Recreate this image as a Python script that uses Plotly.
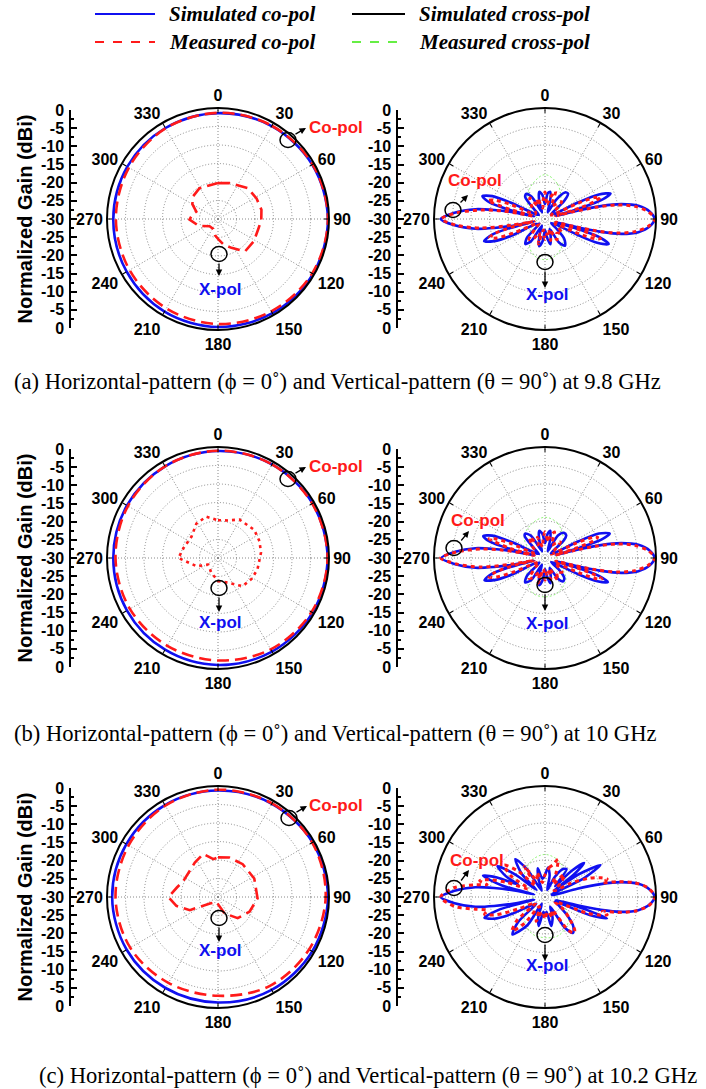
import plotly.graph_objects as go

W, H = 706, 1089

# ---------------- data ----------------
ANG_TICKS = list(range(0, 360, 30))
ANG_LABELS = [str(a) for a in ANG_TICKS]
SCALE_TICKS = list(range(-30, 31, 5))
SCALE_LABELS = [str(abs(v) - 30) for v in SCALE_TICKS]
RING_TICKS = [-25, -20, -15, -10, -5]

# Horizontal pattern (phi = 0) : co-pol, simulated and measured
H_theta = [0, 30, 60, 90, 120, 150, 180, 210, 240, 270, 300, 330, 360]
Ha_sim = [-1.4, -1.0, -0.6, -0.3, -0.35, -0.6, -0.8, -1.1, -1.5, -1.7, -1.7, -1.6, -1.4]
Ha_meas = [-1.3, -0.9, -0.5, -0.3, -0.6, -1.2, -1.6, -2.1, -2.4, -2.4, -2.2, -1.7, -1.3]
Hb_sim = [-1.1, -0.8, -0.5, -0.4, -0.5, -0.8, -1.1, -1.4, -1.6, -1.7, -1.6, -1.4, -1.1]
Hb_meas = [-1.0, -0.8, -0.6, -0.4, -0.8, -1.5, -2.3, -2.6, -2.5, -2.3, -1.9, -1.4, -1.0]
Hc_sim = [-1.2, -0.9, -0.5, -0.3, -0.6, -1.0, -1.5, -1.6, -1.5, -1.4, -1.4, -1.3, -1.2]
Hc_meas = [-1.0, -0.8, -0.6, -0.9, -1.6, -2.2, -3.3, -3.2, -2.6, -2.3, -2.1, -1.5, -1.0]

# Horizontal pattern : measured cross-pol (inner curves)
Xa_theta = [0, 18, 44, 62, 78, 92, 105, 122, 140, 155, 168, 178, 190, 205, 229, 250, 269, 280, 289, 300, 312, 329, 345, 360]
Xa_meas = [-20.3, -19.8, -18.4, -18.2, -18.0, -18.3, -18.8, -18.6, -18.6, -21.4, -23.0, -24.4, -25.5, -27.0, -27.0,
           -24.5, -22.3, -23.0, -23.8, -22.0, -20.9, -20.3, -20.6, -20.3]
Xb_theta = [0, 15, 29, 52, 68, 83, 106, 122, 139, 158, 180, 204, 236, 249, 270, 286, 309, 328, 344, 360]
Xb_meas = [-19.8, -19.5, -18.1, -17.6, -17.9, -18.3, -18.9, -19.3, -19.9, -22.8, -23.8, -25.6, -26.8, -23.8,
           -19.3, -20.3, -20.8, -19.0, -18.4, -19.8]
Xc_theta = [0, 16, 37, 63, 92, 115, 137, 158, 198, 231, 245, 258, 270, 283, 295, 326, 341, 353, 360]
Xc_meas = [-19.3, -18.9, -18.9, -19.0, -19.3, -20.6, -22.2, -25.2, -28.6, -27.2, -21.6, -18.5, -16.6, -18.6,
           -19.7, -18.8, -17.7, -19.7, -19.3]

# Vertical pattern (theta = 90) : simulated co-pol, (angle, gain) pairs
Va_sim = [(0, -26), (6, -23), (11, -22.5), (16, -25), (22, -28), (30, -24), (37, -21), (42, -20.7),
          (47, -23), (52, -28), (58, -27.5), (62, -27), (63.5, -20), (65.5, -14), (68.7, -11), (71.5, -14),
          (73, -20), (74.2, -27), (75.5, -21), (77, -14.5), (79, -9), (82, -4.5), (86, -1.6), (90, -0.4),
          (94, -1.6), (98, -4.5), (101, -9), (103, -14.5), (104.5, -21), (105.8, -27), (107, -20),
          (108.5, -14.5), (111.5, -11.5), (114.5, -14.5), (116, -20), (117.5, -27), (124, -28), (130, -26),
          (136, -22.5), (143, -21), (149, -22.5), (155, -27), (162, -25), (168, -23), (174, -25), (180, -27),
          (186, -24), (192, -22.5), (198, -25), (205, -28), (212, -23), (218, -21.4), (224, -23), (230, -28),
          (236, -27.5), (242, -27), (243.5, -20), (246.5, -15), (250, -12.5), (253.5, -15), (255.5, -20),
          (256.8, -27), (258, -21.5), (260, -16), (262, -11), (266, -5.5), (270, -1.8), (274, -5.5),
          (278, -11), (280, -16), (282, -21.5), (283.3, -27), (284.5, -20), (286.5, -14.5), (290, -12),
          (293.5, -14.5), (295.5, -20), (297, -27), (304, -28), (312, -26), (318, -22), (323, -21.5),
          (329, -23), (336, -28), (342, -25), (348, -22.5), (354, -23.5), (360, -26)]
Va_meas = [(0, -22.7), (8, -26), (14, -24), (21, -22), (28, -26), (36, -25), (44, -23.5), (52, -27), (58, -28),
           (62.5, -27), (64.5, -20), (66.5, -15.5), (68.5, -13.9), (70.5, -15.5), (72.5, -20), (74, -27),
           (75.5, -22), (77, -16), (79, -10), (82, -5.5), (86, -2), (90, -0.3), (94, -2), (98, -5.5),
           (101, -10), (103, -16), (104.5, -22), (106, -27), (107.5, -19), (109.5, -14.1), (111.5, -15.5),
           (113.5, -20), (115.5, -27), (122, -26), (130, -24), (140, -25), (150, -23.5), (158, -27), (165, -24),
           (172, -26), (180, -24.5), (188, -27), (195, -23), (202, -26), (210, -24), (218, -23), (226, -26.5),
           (234, -28), (242.5, -27), (246, -21), (248.5, -16), (251.5, -14.2), (254, -16), (256.5, -21),
           (258, -27), (259.5, -21), (262, -12.5), (266, -6), (270, -2.0), (274, -6), (278, -12.5),
           (280.5, -18), (282, -23), (283.5, -27), (285.5, -20), (288, -13.8), (290.5, -15.5), (293, -20),
           (296, -27), (304, -27), (314, -25), (324, -23), (332, -26), (340, -24), (348, -27), (354, -25),
           (360, -22.7)]

Vb_sim = [(0, -26), (6, -23.5), (11, -22.5), (16, -25), (22, -28), (30, -23), (37, -21.5), (43, -21.6),
          (47, -23), (52, -28), (58, -27.5), (62, -27), (63.5, -20), (65.5, -14), (69.3, -11.3), (72, -14),
          (73.3, -20), (74.2, -27), (75.5, -21), (77, -14.5), (79, -9), (82, -4.5), (86, -1.6), (90, -0.4),
          (94, -1.6), (98, -4.5), (101, -9), (103, -14.5), (104.5, -21), (105.8, -27), (107, -20),
          (108.5, -14.5), (111, -11.8), (114, -14.5), (116, -20), (117.5, -27), (124, -28), (130, -25),
          (136, -22.5), (142, -22), (148, -23.5), (155, -27), (162, -25), (168, -23), (174, -25), (180, -27),
          (186, -24), (192, -22.5), (198, -25), (205, -28), (212, -23), (219, -21.5), (225, -23), (230, -28),
          (236, -27.5), (242, -27), (243.5, -20), (246.5, -15), (250, -12.6), (253.5, -15), (255.5, -20),
          (256.8, -27), (258, -21.5), (260, -16), (262, -11), (266, -5.7), (270, -2.0), (274, -5.7),
          (278, -11), (280, -16), (282, -21.5), (283.3, -27), (284.5, -20), (286.5, -14.5), (289.5, -12.3),
          (293, -14.5), (295.5, -20), (297, -27), (304, -28), (312, -26), (317, -22), (321, -21.5),
          (328, -23), (336, -28), (342, -25), (348, -22.5), (354, -23.5), (360, -26)]
Vb_meas = [(0, -23), (8, -25), (14, -24), (20, -22.5), (28, -26), (36, -25), (44, -24), (52, -27), (58, -28),
           (62.5, -27), (64.5, -21), (66.5, -16), (68.5, -14.7), (70.5, -16), (72.5, -21), (74, -27),
           (75.5, -22), (77, -16), (79, -10), (82, -5.5), (86, -2), (90, -0.3), (94, -2), (98, -5.5),
           (101, -10), (103, -16), (104.5, -22), (106, -27), (107.5, -19), (110, -13.6), (112, -15),
           (113.5, -20), (115.5, -27), (122, -26), (130, -24), (140, -25), (150, -23), (158, -27), (165, -24),
           (172, -26), (180, -24), (188, -27), (195, -23), (202, -26), (210, -24), (218, -23), (226, -26.5),
           (234, -28), (242.5, -27), (246, -21), (248.5, -16), (251, -14), (254, -16), (256.5, -21),
           (258, -27), (259.5, -21), (262, -12.5), (266, -6.2), (270, -1.8), (274, -6.2), (278, -12.5),
           (280.5, -18), (282, -23), (283.5, -27), (285.5, -20), (289, -14), (291, -15.5), (293, -20),
           (296, -27), (304, -27), (314, -25), (324, -23), (332, -26), (340, -24), (348, -27), (354, -25),
           (360, -23)]

Vc_sim = [(0, -24), (6, -22), (12, -24), (18, -28), (26, -24), (33, -21), (38, -20.5), (43, -26), (45.5, -20),
          (49, -16), (52, -20), (54, -27), (56, -19), (60, -12.7), (64, -18), (66, -27), (70, -28),
          (74.2, -28), (75.5, -21), (77, -14.5), (79, -9), (82, -4.5), (86, -1.6), (90, -0.4), (94, -1.6),
          (98, -4.5), (101, -9), (103, -14.5), (104.5, -21), (105.8, -27), (107, -19), (109, -12.3),
          (112, -17), (114, -27), (120, -26), (130, -22), (136, -19), (142, -17.7), (147, -20), (152, -27),
          (160, -24), (168, -22), (174, -26), (180, -25), (186, -26), (192, -22), (198, -24), (206, -28),
          (212, -21), (221, -16.6), (227, -20), (232, -27), (238, -26), (243, -20), (247, -15), (251, -12.7),
          (254.5, -17), (256.8, -27), (258, -21.5), (260, -16), (262, -11), (266, -5.5), (270, -1.8),
          (274, -5.5), (278, -11), (280, -16), (282, -21.5), (283.3, -27), (285, -18), (289, -12.3),
          (292, -16), (295, -22), (298, -18), (303, -14.7), (307, -20), (310, -27), (315, -21), (322, -17),
          (327, -21), (333, -28), (340, -25), (346, -22), (352, -25), (360, -24)]
Vc_meas = [(0, -24), (8, -22), (14, -21), (19, -19.2), (25, -23), (32, -26), (40, -22), (48, -24), (55, -27),
           (62, -22), (67, -17), (71, -14), (74, -12.5), (76, -14), (78, -10), (81, -5.5), (85, -2),
           (90, -0.3), (95, -2), (99, -5.5), (102, -10), (104, -14), (106, -12.5), (108, -14), (111, -18),
           (116, -27), (124, -24), (132, -21), (138, -18), (141, -17.5), (145, -19), (152, -26), (160, -24),
           (170, -26), (180, -24), (190, -26), (200, -23), (210, -27), (218, -21), (224, -17.2), (230, -20),
           (238, -27), (246, -22), (250, -16), (254, -13), (257, -14), (260, -11), (264, -5.5), (270, -1.8),
           (276, -5.5), (280, -11), (282, -14), (284, -11.8), (287, -14), (291, -19), (296, -25), (302, -19),
           (308, -16), (314, -20), (320, -26), (326, -20), (334, -25), (342, -23), (350, -26), (360, -24)]

# Vertical pattern : measured cross-pol (faint)
G_theta = [0, 20, 45, 70, 90, 110, 135, 160, 180, 200, 225, 250, 270, 290, 315, 340, 360]
Ga_meas = [-18, -20, -24, -27, -28, -27, -23, -20, -19, -20, -24, -27, -28, -27, -23, -20, -18]
Gb_meas = [-19, -20, -23, -26, -27, -26, -22, -20, -19.5, -20, -23, -26, -27, -26, -22, -20, -19]
Gc_meas = [-18.5, -19.5, -22, -25, -27, -25, -21, -19, -19, -19.5, -22, -25, -27, -25, -22, -19.5, -18.5]

CAPTIONS = ["(a) Horizontal-pattern (\u03d5 = 0\u02da) and Vertical-pattern (\u03b8 = 90\u02da) at 9.8 GHz",
            "(b) Horizontal-pattern (\u03d5 = 0\u02da) and Vertical-pattern (\u03b8 = 90\u02da) at 10 GHz",
            "(c) Horizontal-pattern (\u03d5 = 0\u02da) and Vertical-pattern (\u03b8 = 90\u02da) at 10.2 GHz"]
LEGEND_NAMES = ["Simulated co-pol", "Measured co-pol", "Simulated cross-pol", "Measured cross-pol"]

# ---------------- styling / layout helpers ----------------
BLUE = "#1010f0"
RED = "#ff1a1a"
GREEN = "#66ee44"
BOLD = dict(family="Liberation Sans, Arial", size=16, color="black", weight="bold")
ABOLD = dict(family="Liberation Sans, Arial", size=16, color="black", weight="bold")

def px(x):
    return x / W

def py(y):
    return 1 - y / H

def split(pairs):
    return [p[0] for p in pairs], [p[1] for p in pairs]

ROWS_CY = [219, 558, 897]
COLS_CX = [218, 545]
AXIS_X = [71, 398]
R = 111

fig = go.Figure()

panels = [
    ("H", H_theta, Ha_sim, H_theta, Ha_meas, Xa_theta, Xa_meas, "12px,6px"),
    ("V", *split(Va_sim), *split(Va_meas), G_theta, Ga_meas, None),
    ("H", H_theta, Hb_sim, H_theta, Hb_meas, Xb_theta, Xb_meas, "3px,4px"),
    ("V", *split(Vb_sim), *split(Vb_meas), G_theta, Gb_meas, None),
    ("H", H_theta, Hc_sim, H_theta, Hc_meas, Xc_theta, Xc_meas, "12px,6px"),
    ("V", *split(Vc_sim), *split(Vc_meas), G_theta, Gc_meas, None),
]

layout = dict(width=W, height=H, margin=dict(l=0, r=0, t=0, b=0, pad=0, autoexpand=False),
              paper_bgcolor="white", plot_bgcolor="white", showlegend=False)
shapes = []
annotations = []

def text_at(x, y, text, font, xanchor="center", textangle=0):
    annotations.append(dict(x=px(x), y=py(y), xref="paper", yref="paper", text=text, showarrow=False,
                            xanchor=xanchor, yanchor="middle", font=font, textangle=textangle))

for i, (kind, th_s, r_s, th_m, r_m, th_x, r_x, xdash) in enumerate(panels):
    row, col = divmod(i, 2)
    cx, cy = COLS_CX[col], ROWS_CY[row]
    sub = "polar" if i == 0 else f"polar{i+1}"
    if kind == "H":
        fig.add_trace(go.Scatterpolar(theta=th_x, r=r_x, mode="lines", subplot=sub,
                                      line=dict(color=RED, width=2.6, dash=xdash), name=LEGEND_NAMES[3]))
        fig.add_trace(go.Scatterpolar(theta=th_s, r=r_s, mode="lines", subplot=sub,
                                      line=dict(color=BLUE, width=2.6, shape="spline", smoothing=1.0),
                                      name=LEGEND_NAMES[0]))
        fig.add_trace(go.Scatterpolar(theta=th_m, r=r_m, mode="lines", subplot=sub,
                                      line=dict(color=RED, width=2.6, dash="12px,6px", shape="spline",
                                                smoothing=1.0), name=LEGEND_NAMES[1]))
    else:
        fig.add_trace(go.Scatterpolar(theta=th_x, r=r_x, mode="lines", subplot=sub,
                                      line=dict(color=GREEN, width=0.7, dash="2px,2px", shape="spline"),
                                      name=LEGEND_NAMES[3]))
        fig.add_trace(go.Scatterpolar(theta=th_s, r=r_s, mode="lines", subplot=sub,
                                      line=dict(color=BLUE, width=2.6, shape="spline", smoothing=0.8),
                                      name=LEGEND_NAMES[0]))
        fig.add_trace(go.Scatterpolar(theta=th_m, r=r_m, mode="lines", subplot=sub,
                                      line=dict(color=RED, width=3, dash="4px,4px", shape="spline",
                                                smoothing=0.8), name=LEGEND_NAMES[1]))

    layout[sub] = dict(
        domain=dict(x=[px(cx - R), px(cx + R)], y=[py(cy + R), py(cy - R)]),
        bgcolor="white",
        angularaxis=dict(rotation=90, direction="clockwise", tickmode="array",
                         tickvals=ANG_TICKS, ticktext=ANG_LABELS, tickfont=ABOLD,
                         showline=True, linecolor="black", linewidth=2,
                         gridcolor="#888888", griddash="1px,2px", gridwidth=1,
                         ticks="inside", ticklen=4, tickcolor="black"),
        radialaxis=dict(range=[-30, 0], tickvals=RING_TICKS, showticklabels=False, ticks="",
                        showline=False, gridcolor="#888888", griddash="1px,2px", gridwidth=1),
    )

    # left dB scale
    k = "" if i == 0 else str(i + 1)
    fig.add_trace(go.Scatter(x=[0], y=[0], xaxis="x" + k, yaxis="y" + k, mode="markers",
                             marker=dict(opacity=0), hoverinfo="skip"))
    ax = AXIS_X[col]
    layout["xaxis" + k] = dict(domain=[px(ax), px(ax + 2)], visible=False, range=[0, 1],
                               anchor="y" + k, fixedrange=True, automargin=False)
    ydict = dict(domain=[py(cy + 109), py(cy - 109)], range=[-30, 30], anchor="x" + k,
                 tickmode="array", tickvals=SCALE_TICKS, ticktext=SCALE_LABELS,
                 tickfont=BOLD, ticks="inside", ticklen=6, tickwidth=1.5,
                 tickcolor="black", showline=True, linecolor="black", linewidth=1.5,
                 showgrid=False, zeroline=False, fixedrange=True, ticklabelstandoff=2,
                 automargin=False,
                 minor=dict(ticks="inside", ticklen=3, dtick=2.5, tick0=0,
                            tickcolor="black", showgrid=False))
    if col == 0:
        ydict["title"] = dict(text="Normalized Gain (dBi)", standoff=3,
                              font=dict(family="Liberation Sans, Arial", size=20, color="black",
                                        weight="bold"))
    layout["yaxis" + k] = ydict

# annotation markers (ellipses, arrows, labels) per panel, in pixel coords
MARKS = {
    # (co circle center, co arrow head, co text center, x circle center, x arrow head, x text center)
    0: ((288, 140), (306, 128), (336, 127), (219, 254), (219, 276), (220, 289)),
    1: ((453, 210), (468, 195), (475, 181), (545, 262), (545, 288), (547, 294)),
    2: ((288, 479), (306, 467), (336, 466), (219, 588), (219, 612), (220, 622)),
    3: ((454, 548), (469, 531), (478, 520), (545, 585), (545, 611), (547, 623)),
    4: ((289, 818), (307, 806), (336, 805), (219, 918), (219, 942), (221, 950)),
    5: ((454, 888), (469, 870), (477, 860), (545, 935), (545, 961), (547, 965)),
}
LBL = dict(family="Liberation Sans, Arial", size=17, weight="bold")
for i, (cc, ch, ct, xc, xh, xt) in MARKS.items():
    for (ex, ey) in (cc, xc):
        shapes.append(dict(type="circle", xref="paper", yref="paper", x0=px(ex - 8), x1=px(ex + 8),
                           y0=py(ey + 7.5), y1=py(ey - 7.5), line=dict(color="black", width=1.5)))
    tail = (cc[0] + 6, cc[1] - 5) if i % 2 == 0 else (cc[0] + 6, cc[1] - 6)
    annotations.append(dict(x=px(ch[0]), y=py(ch[1]), xref="paper", yref="paper", ax=tail[0] - ch[0],
                            ay=tail[1] - ch[1], showarrow=True, arrowhead=2, arrowsize=1, arrowwidth=1.3,
                            arrowcolor="black", text=""))
    text_at(ct[0], ct[1], "Co-pol", dict(color=RED, **LBL))
    annotations.append(dict(x=px(xh[0]), y=py(xh[1]), xref="paper", yref="paper", ax=0,
                            ay=(xc[1] + 8) - xh[1], showarrow=True, arrowhead=2, arrowsize=1,
                            arrowwidth=1.3, arrowcolor="black", text=""))
    text_at(xt[0], xt[1], "X-pol", dict(color=BLUE, **LBL))

# captions
CAP_FONT = dict(family="Liberation Serif, Times New Roman", size=22.6, color="black")
text_at(12, 381, CAPTIONS[0], CAP_FONT, xanchor="left")
text_at(12, 733, CAPTIONS[1], CAP_FONT, xanchor="left")
text_at(368, 1075, CAPTIONS[2], CAP_FONT)

# legend (drawn manually)
LEG_FONT = dict(family="Liberation Serif, Times New Roman", size=21, color="black", weight="bold",
                style="italic")
leg_items = [(95, 155, 14, BLUE, "solid", LEGEND_NAMES[0]),
             (95, 155, 42, RED, "dash", LEGEND_NAMES[1]),
             (352, 405, 14, "black", "solid", LEGEND_NAMES[2]),
             (352, 405, 42, GREEN, "dash", LEGEND_NAMES[3])]
for (x0, x1, y, c, d, name) in leg_items:
    shapes.append(dict(type="line", xref="paper", yref="paper", x0=px(x0), x1=px(x1), y0=py(y), y1=py(y),
                       line=dict(color=c, width=2, dash=d)))
    text_at(x1 + 12, y, name, LEG_FONT, xanchor="left")

layout["shapes"] = shapes
layout["annotations"] = annotations
fig.update_layout(**layout)
fig.write_html("out.html", config={"displayModeBar": False},
               post_script="document.body.style.margin='0px';document.body.style.padding='0px';")
